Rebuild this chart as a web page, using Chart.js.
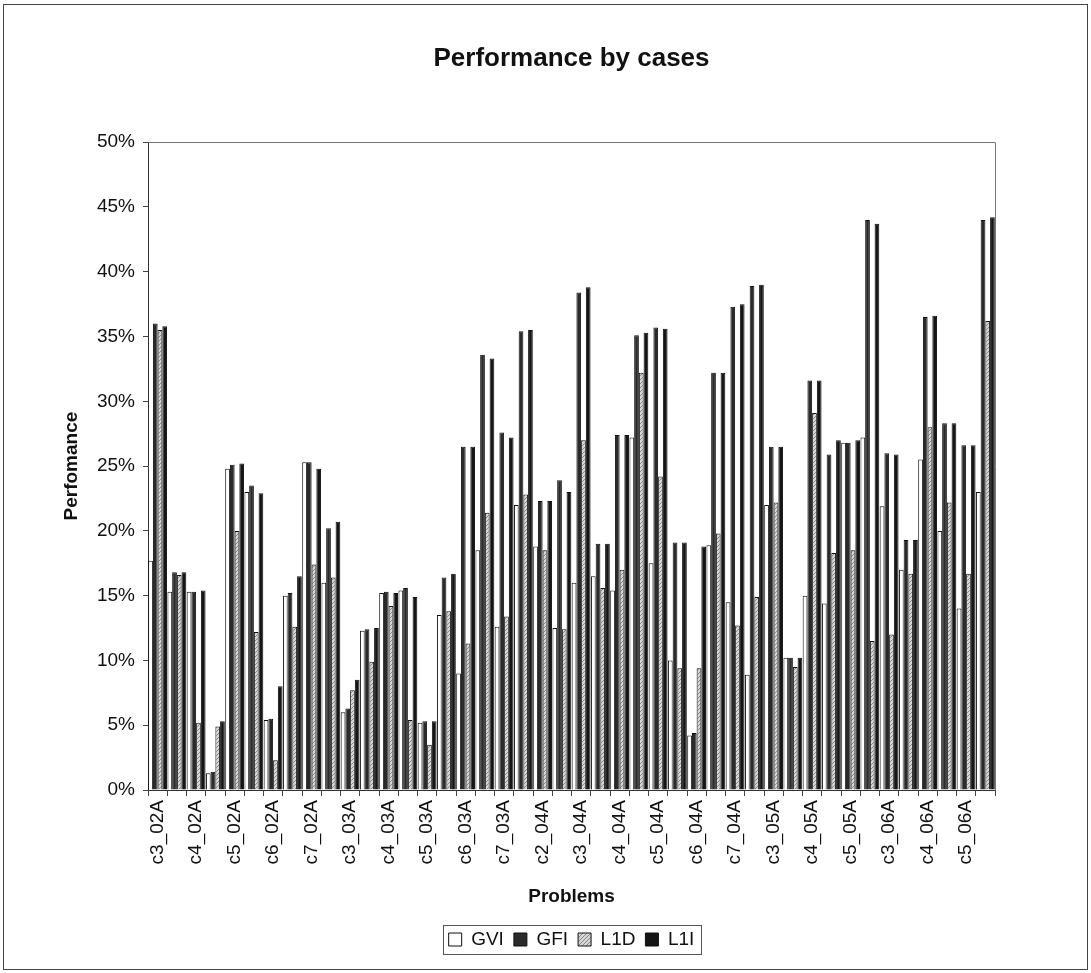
<!DOCTYPE html>
<html>
<head>
<meta charset="utf-8">
<title>Performance by cases</title>
<script src="https://cdn.jsdelivr.net/npm/chart.js@4.4.1/dist/chart.umd.min.js"></script>
<style>
  html, body { margin: 0; padding: 0; background: #fff; }
  #wrap { width: 1091px; height: 973px; position: relative; }
</style>
</head>
<body>
<div id="wrap"><canvas id="casesChart"></canvas></div>
<script>
// problem names shown on the axis; every second case has no printed label
const problems = ['c3_02A', 'c4_02A', 'c5_02A', 'c6_02A', 'c7_02A', 'c3_03A', 'c4_03A', 'c5_03A',
    'c6_03A', 'c7_03A', 'c2_04A', 'c3_04A', 'c4_04A', 'c5_04A', 'c6_04A', 'c7_04A',
    'c3_05A', 'c4_05A', 'c5_05A', 'c3_06A', 'c4_06A', 'c5_06A'];

// performance values in percent, one per case (44 cases)
const gviValues = [17.7, 15.3, 15.3, 1.3, 24.8, 23.0, 5.4, 15.0, 25.3, 16.0, 6.0, 12.3, 15.2, 15.4, 5.2, 13.5,
    9.0, 18.5, 12.6, 22.0, 18.8, 12.5, 16.0, 16.5, 15.4, 27.2, 17.5, 10.0, 4.2, 18.9, 14.5, 8.9,
    22.0, 10.2, 15.0, 14.4, 26.8, 27.2, 21.9, 17.0, 25.5, 20.0, 14.0, 23.0];
const gfiValues = [36.0, 16.8, 15.3, 1.4, 25.1, 23.5, 5.5, 15.2, 25.3, 20.2, 6.3, 12.4, 15.3, 15.6, 5.3, 16.4,
    26.5, 33.6, 27.6, 35.4, 22.3, 23.9, 38.4, 19.0, 27.4, 35.1, 35.7, 19.1, 4.4, 32.2, 37.3, 38.9,
    26.5, 10.2, 31.6, 25.9, 26.8, 44.0, 26.0, 19.3, 36.5, 28.3, 26.6, 44.0];
const l1dValues = [35.5, 16.6, 5.2, 4.9, 20.0, 12.2, 2.3, 12.6, 17.4, 16.4, 7.7, 9.9, 14.2, 5.4, 3.5, 13.8,
    11.3, 21.4, 13.4, 22.8, 18.5, 12.4, 27.0, 15.6, 17.0, 32.2, 24.2, 9.4, 9.4, 19.8, 12.7, 14.9,
    22.2, 9.5, 29.1, 18.3, 18.5, 11.5, 12.0, 16.7, 28.0, 22.2, 16.7, 36.2];
const l1iValues = [35.8, 16.8, 15.4, 5.3, 25.2, 22.9, 8.0, 16.5, 24.8, 20.7, 8.5, 12.5, 15.2, 14.9, 5.3, 16.7,
    26.5, 33.3, 27.2, 35.5, 22.3, 23.0, 38.8, 19.0, 27.4, 35.3, 35.6, 19.1, 18.8, 32.2, 37.5, 39.0,
    26.5, 10.2, 31.6, 27.0, 27.0, 43.7, 25.9, 19.3, 36.6, 28.3, 26.6, 44.2];

const yTicks = [0, 5, 10, 15, 20, 25, 30, 35, 40, 45, 50];

const categories = [];
problems.forEach(name => { categories.push(name); categories.push(''); });

function hatchPattern() {
    const c = document.createElement('canvas');
    c.width = 4; c.height = 4;
    const g = c.getContext('2d');
    g.fillStyle = '#d6d6d6';
    g.fillRect(0, 0, 4, 4);
    g.strokeStyle = '#888';
    g.lineWidth = 1;
    g.beginPath(); g.moveTo(0, 4); g.lineTo(4, 0); g.stroke();
    return g.createPattern(c, 'repeat');
}

const framePlugin = {
    id: 'frames',
    afterDraw(chart) {
        const ctx = chart.ctx;
        const area = chart.chartArea;
        ctx.save();
        ctx.lineWidth = 1;
        ctx.strokeStyle = '#444';
        ctx.strokeRect(3.5, 4.5, chart.width - 7, chart.height - 8);
        ctx.strokeStyle = '#777';
        ctx.beginPath();
        ctx.moveTo(Math.round(area.left) + 0.5, Math.round(area.top) + 0.5);
        ctx.lineTo(Math.round(area.right) + 0.5, Math.round(area.top) + 0.5);
        ctx.lineTo(Math.round(area.right) + 0.5, Math.round(area.bottom) + 0.5);
        ctx.stroke();
        const hits = chart.legend.legendHitBoxes;
        if (hits && hits.length) {
            const l = Math.min(...hits.map(h => h.left)) - 6;
            const r = Math.max(...hits.map(h => h.left + h.width)) + 6;
            const t = Math.min(...hits.map(h => h.top)) - 5;
            const b = Math.max(...hits.map(h => h.top + h.height)) + 5;
            ctx.strokeStyle = '#555';
            ctx.strokeRect(Math.round(l) + 0.5, Math.round(t) + 0.5, Math.round(r - l), Math.round(b - t));
        }
        ctx.restore();
    }
};

Chart.defaults.font.family = '"Liberation Sans", Arial, sans-serif';
Chart.defaults.color = '#111';

const ctx = document.getElementById('casesChart').getContext('2d');
new Chart(ctx, {
    type: 'bar',
    data: {
        labels: categories,
        datasets: [
            { label: 'GVI', data: gviValues, backgroundColor: '#ffffff', borderColor: '#111', borderWidth: 1 },
            { label: 'GFI', data: gfiValues, backgroundColor: '#2a2a2a', borderColor: '#111', borderWidth: 1 },
            { label: 'L1D', data: l1dValues, backgroundColor: hatchPattern(), borderColor: '#111', borderWidth: 1 },
            { label: 'L1I', data: l1iValues, backgroundColor: '#151515', borderColor: '#111', borderWidth: 1 }
        ]
    },
    options: {
        responsive: true,
        maintainAspectRatio: false,
        animation: false,
        layout: { padding: { left: 50, right: 96, top: 0, bottom: 14 } },
        datasets: { bar: { categoryPercentage: 0.98, barPercentage: 1.0 } },
        plugins: {
            title: {
                display: true,
                text: 'Performance by cases',
                fullSize: false,
                font: { size: 26, weight: 'bold' },
                padding: { top: 43, bottom: 68 }
            },
            legend: {
                position: 'bottom',
                fullSize: false,
                labels: { boxWidth: 13, boxHeight: 13, font: { size: 19 }, padding: 10 }
            },
            tooltip: { enabled: false }
        },
        scales: {
            x: {
                offset: true,
                grid: { display: true, drawOnChartArea: false, drawTicks: true, tickLength: 6, color: '#444', offset: true },
                border: { display: true, color: '#333' },
                ticks: {
                    autoSkip: false, minRotation: 90, maxRotation: 90, padding: 4,
                    font: { size: 19 }
                },
                title: { display: true, text: 'Problems', font: { size: 19, weight: 'bold' }, padding: { top: 4, bottom: 12 } },
                afterFit(scale) { scale.height = 130; }
            },
            y: {
                min: 0,
                max: 50,
                afterBuildTicks(scale) { scale.ticks = yTicks.map(v => ({ value: v })); },
                grid: { display: true, drawOnChartArea: false, drawTicks: true, tickLength: 5, color: '#444' },
                border: { display: true, color: '#333' },
                ticks: { padding: 8, font: { size: 19 }, callback: v => v + '%' },
                title: { display: true, text: 'Perfomance', font: { size: 19, weight: 'bold' }, padding: { top: 10, bottom: 0 } },
                afterFit(scale) { scale.width = 98; }
            }
        }
    },
    plugins: [framePlugin]
});
</script>
</body>
</html>
